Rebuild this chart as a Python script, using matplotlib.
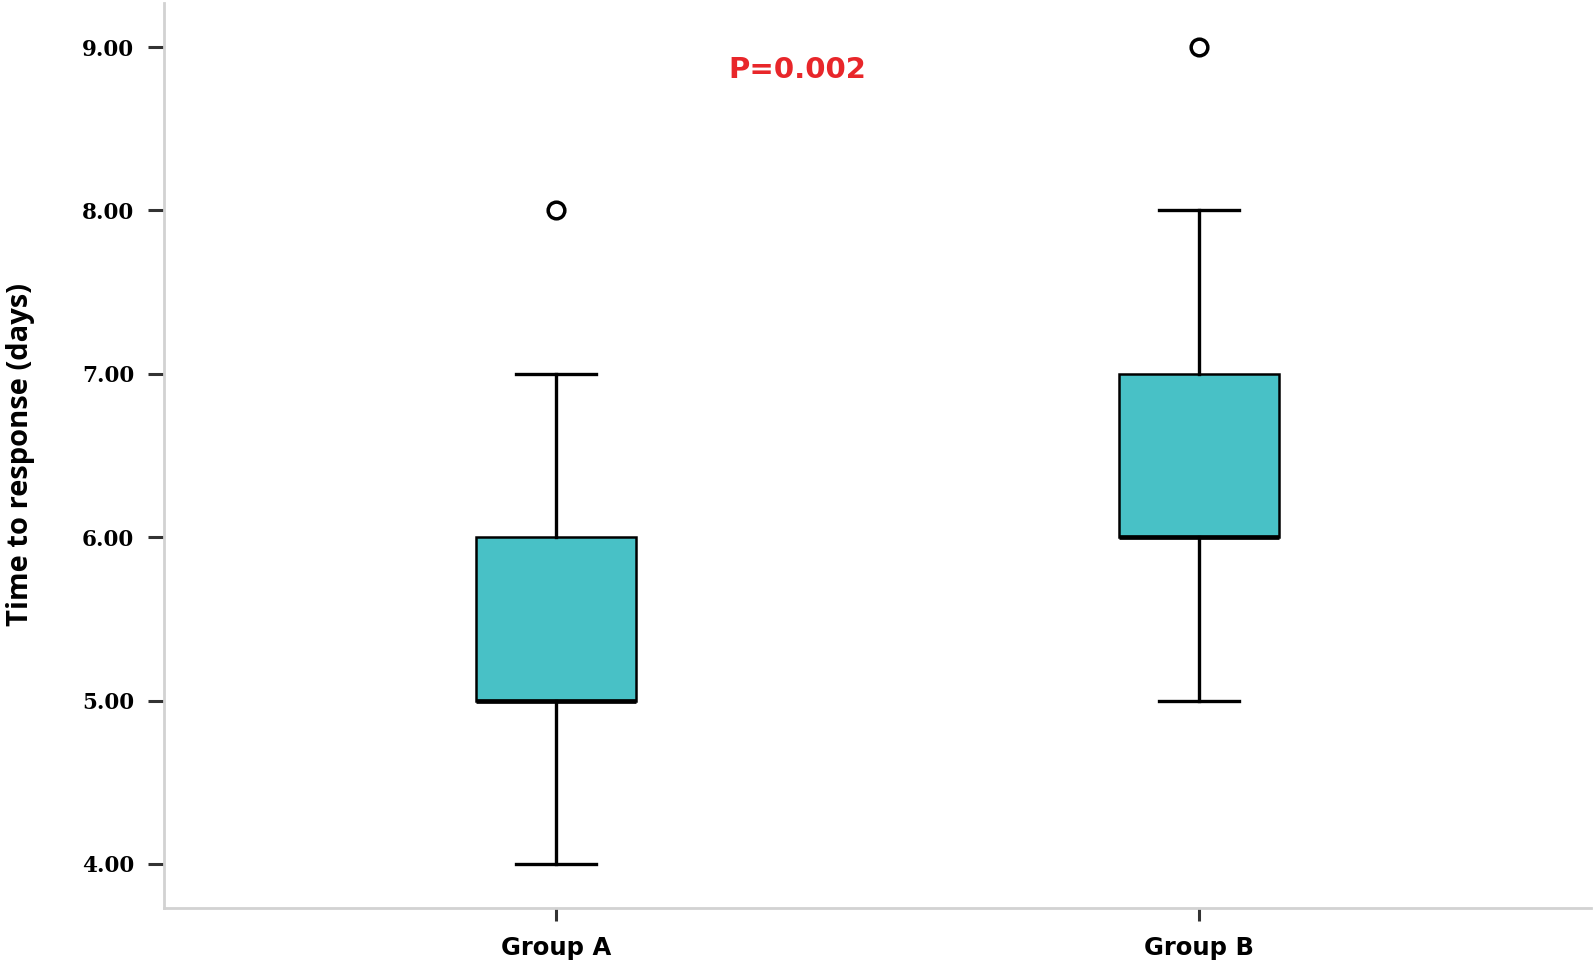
import matplotlib
matplotlib.use("Agg")
import matplotlib.pyplot as plt

# five-number summaries
groups = ["Group A", "Group B"]
whisker_low = [4.0, 5.0]
q1 = [5.0, 6.0]
median = [5.0, 6.0]
q3 = [6.0, 7.0]
whisker_high = [7.0, 8.0]
outliers = [[8.0], [9.0]]
y_ticks = [4.0, 5.0, 6.0, 7.0, 8.0, 9.0]
p_text = "P=0.002"

BOX_COLOR = "#48C1C6"
SPINE_COLOR = "#D2D2D2"

stats = []
for i, name in enumerate(groups):
    stats.append({
        "label": name,
        "whislo": whisker_low[i],
        "q1": q1[i],
        "med": median[i],
        "q3": q3[i],
        "whishi": whisker_high[i],
        "fliers": outliers[i],
    })

fig = plt.figure(figsize=(15.94, 9.64), dpi=100)
ax = fig.add_axes([164 / 1594, 1 - 908 / 964, 1427 / 1594, 905 / 964])

positions = [1, 2]
ax.bxp(
    stats,
    positions=positions,
    widths=0.249,
    capwidths=0.124,
    patch_artist=True,
    showfliers=True,
    boxprops=dict(facecolor=BOX_COLOR, edgecolor="black", linewidth=1.8),
    medianprops=dict(color="black", linewidth=3.4),
    whiskerprops=dict(color="black", linewidth=2.4),
    capprops=dict(color="black", linewidth=2.4),
    flierprops=dict(marker="o", markerfacecolor="white", markeredgecolor="black",
                    markersize=12, markeredgewidth=2.5, linestyle="none"),
)

ax.set_xlim(0.39, 2.61)
ax.set_ylim(3.73, 9.27)
ax.set_yticks(y_ticks)
ax.set_yticklabels([f"{v:.2f}" for v in y_ticks],
                   fontfamily="DejaVu Serif", fontweight="bold", fontsize=15.5)
ax.set_xticks(positions)
ax.set_xticklabels(groups, fontfamily="DejaVu Sans", fontweight="bold", fontsize=17.5)

ax.tick_params(axis="y", direction="out", length=11.5, width=2.2, color="#333333", pad=10)
ax.tick_params(axis="x", direction="out", length=9, width=2.2, color="#333333", pad=11)

for side in ["top", "right"]:
    ax.spines[side].set_visible(False)
for side in ["left", "bottom"]:
    ax.spines[side].set_color(SPINE_COLOR)
    ax.spines[side].set_linewidth(2)

ax.text(0.4436, 0.926, p_text, transform=ax.transAxes, ha="center", va="center",
        color="#E8262A", fontsize=21, fontweight="bold", fontfamily="DejaVu Sans")

fig.text(21 / 1594, 1 - 455 / 964, "Time to response (days)", rotation=90,
         ha="center", va="center", fontsize=21, fontweight="bold", fontfamily="Open Sans")

fig.savefig("out.png", dpi=100)
